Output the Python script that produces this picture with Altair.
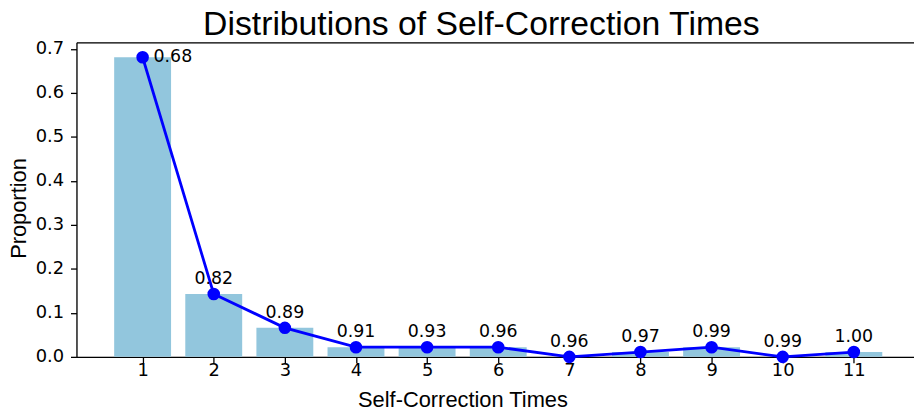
import altair as alt
import pandas as pd

times = [1, 2, 3, 4, 5, 6, 7, 8, 9, 10, 11]
proportions = [0.681, 0.143, 0.066, 0.022, 0.022, 0.022, 0.0, 0.011, 0.022, 0.0, 0.011]
cumulative_labels = ["0.68", "0.82", "0.89", "0.91", "0.93", "0.96", "0.96", "0.97", "0.99", "0.99", "1.00"]

df = pd.DataFrame({"t": times, "p": proportions, "lab": cumulative_labels})

x_scale = alt.Scale(domain=[0.07, 11.846], nice=False, zero=False)
y_scale = alt.Scale(domain=[0, 0.715], nice=False)

TICK_FONT = "DejaVu Sans"
LABEL_FONT = "Liberation Sans"

x_axis = alt.Axis(
    title="Self-Correction Times", values=times, format="d",
    labelFont=TICK_FONT, labelFontSize=18, labelColor="black",
    titleFont=LABEL_FONT, titleFontSize=22, titleFontWeight="normal", titleColor="black",
    titleX=389, titleY=50, titleBaseline="alphabetic",
    domainColor="black", domainWidth=1.3, tickColor="black", tickWidth=1.3,
    tickSize=6, labelPadding=-1, grid=False,
)
y_axis = alt.Axis(
    title="Proportion", values=[0, 0.1, 0.2, 0.3, 0.4, 0.5, 0.6, 0.7], format=".1f",
    labelFont=TICK_FONT, labelFontSize=18, labelColor="black",
    titleFont=LABEL_FONT, titleFontSize=22, titleFontWeight="normal", titleColor="black",
    titleX=-58, titleY=167, titleBaseline="middle",
    domainColor="black", domainWidth=1.3, tickColor="black", tickWidth=1.3,
    tickSize=6, labelPadding=7, grid=False,
)

base = alt.Chart(df)

def Y():
    return alt.Y("p:Q", scale=y_scale, axis=y_axis, title="Proportion")

bars = base.transform_calculate(
    x0="datum.t - 0.4", x1="datum.t + 0.4"
).mark_bar(color="#92C6DD").encode(
    x=alt.X("x0:Q", scale=x_scale, axis=x_axis),
    x2="x1:Q",
    y=Y(),
    y2=alt.datum(0),
)

top_frame = base.mark_point(opacity=0).encode(
    x=alt.X("t:Q", scale=x_scale,
            axis=alt.Axis(orient="top", labels=False, ticks=False, title=None,
                          domainColor="black", domainWidth=1.3, grid=False)),
    y=Y(),
)

line = base.mark_line(color="#0000FF", strokeWidth=2.8).encode(
    x=alt.X("t:Q", scale=x_scale, axis=None),
    y=Y(),
)

points = base.mark_point(filled=True, color="#0000FF", opacity=1, size=160).encode(
    x=alt.X("t:Q", scale=x_scale, axis=None),
    y=Y(),
)

label_first = base.transform_filter("datum.t == 1").mark_text(
    align="left", baseline="middle", dx=11, font=TICK_FONT, fontSize=17.5, color="black"
).encode(
    x=alt.X("t:Q", scale=x_scale, axis=None),
    y=Y(),
    text="lab:N",
)

label_rest = base.transform_filter("datum.t > 1").mark_text(
    align="center", baseline="alphabetic", dy=-10, font=TICK_FONT, fontSize=17.5, color="black"
).encode(
    x=alt.X("t:Q", scale=x_scale, axis=None),
    y=Y(),
    text="lab:N",
)

chart = alt.layer(bars, top_frame, line, points, label_first, label_rest).resolve_axis(
    x="independent"
).properties(
    width=844, height=317,
    autosize="none",
    padding={"left": 69, "top": 33, "right": 0, "bottom": 55},
    title=alt.TitleParams(
        "Distributions of Self-Correction Times", font=LABEL_FONT, fontSize=34,
        fontWeight="normal", color="black", anchor="middle", dx=-14, offset=-2,
    ),
).configure_view(stroke=None).configure(background="white")

chart.save("out.html", embed_options={"renderer": "svg", "actions": False})
